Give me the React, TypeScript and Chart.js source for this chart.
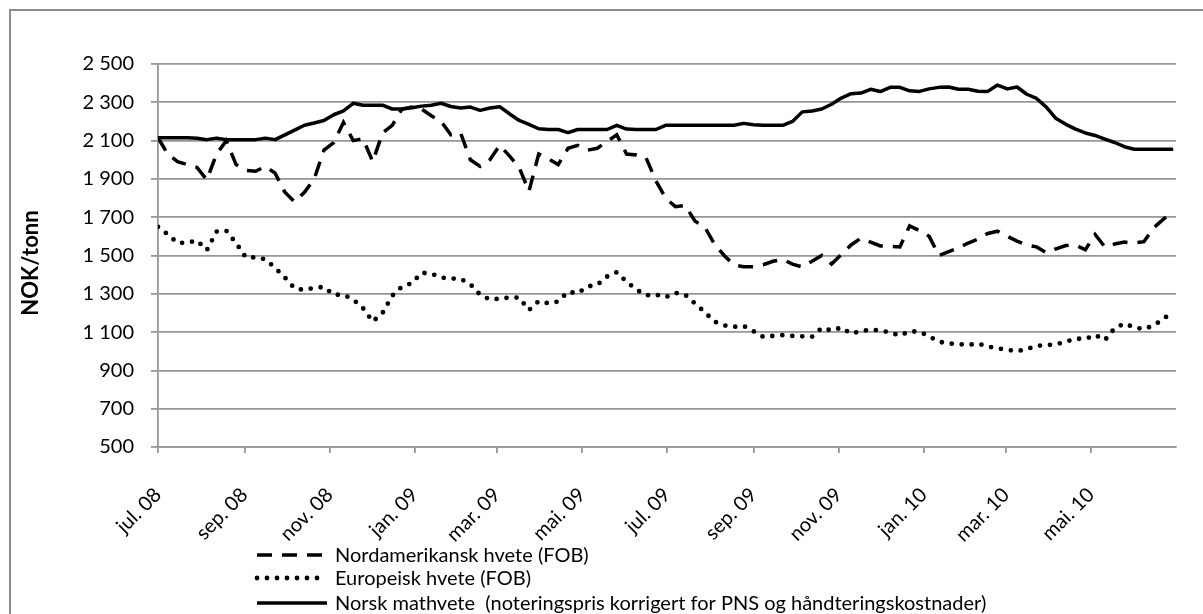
import React, { useEffect, useRef } from 'react';
import { Chart, registerables } from 'chart.js';

Chart.register(...registerables);

// ---- data (weekly observations starting at startDate) ----
const startDate = '2008-07-01';
const axisEndDate = '2010-07-01';
const weekStepDays = 7;

const tickDates = [
  '2008-07-01', '2008-09-01', '2008-11-01', '2009-01-01', '2009-03-01', '2009-05-01',
  '2009-07-01', '2009-09-01', '2009-11-01', '2010-01-01', '2010-03-01', '2010-05-01',
];
const tickLabels = [
  'jul. 08', 'sep. 08', 'nov. 08', 'jan. 09', 'mar. 09', 'mai. 09',
  'jul. 09', 'sep. 09', 'nov. 09', 'jan. 10', 'mar. 10', 'mai. 10',
];

const seriesLabels = [
  'Nordamerikansk hvete (FOB)',
  'Europeisk hvete (FOB)',
  'Norsk mathvete  (noteringspris korrigert for PNS og håndteringskostnader)',
];

const nordamerikansk = [
  2115, 2030, 1990, 1975, 1960, 1895, 2030, 2100, 1975, 1945,
  1940, 1965, 1930, 1830, 1780, 1830, 1900, 2050, 2090, 2195,
  2100, 2110, 1990, 2140, 2180, 2265, 2275, 2265, 2230, 2200,
  2130, 2140, 2000, 1965, 2000, 2075, 2020, 1960, 1835, 2030,
  2005, 1975, 2060, 2075, 2050, 2060, 2095, 2130, 2030, 2025,
  2010, 1890, 1800, 1755, 1762, 1680, 1650, 1560, 1500, 1450,
  1441, 1441, 1452, 1470, 1480, 1455, 1440, 1470, 1500, 1455,
  1505, 1555, 1590, 1570, 1550, 1548, 1545, 1655, 1630, 1600,
  1500, 1520, 1540, 1565, 1585, 1615, 1627, 1600, 1575, 1555,
  1545, 1515, 1535, 1552, 1555, 1530, 1610, 1545, 1560, 1570,
  1565, 1572, 1645, 1690, 1730,
];

const europeisk = [
  1650, 1610, 1565, 1567, 1578, 1528, 1625, 1629, 1565, 1490,
  1490, 1480, 1435, 1385, 1328, 1320, 1331, 1336, 1295, 1295,
  1270, 1225, 1155, 1200, 1290, 1338, 1355, 1410, 1405, 1385,
  1380, 1378, 1350, 1295, 1270, 1275, 1281, 1280, 1215, 1262,
  1250, 1260, 1310, 1303, 1338, 1347, 1390, 1413, 1363, 1322,
  1292, 1296, 1282, 1305, 1295, 1250, 1205, 1155, 1135, 1128,
  1132, 1105, 1075, 1080, 1084, 1080, 1078, 1076, 1122, 1108,
  1124, 1092, 1105, 1112, 1108, 1098, 1082, 1104, 1102, 1078,
  1050, 1040, 1038, 1033, 1040, 1025, 1015, 1008, 1000, 1011,
  1028, 1032, 1036, 1050, 1066, 1064, 1085, 1058, 1120, 1145,
  1125, 1115, 1135, 1168, 1210,
];

const norsk = [
  2115, 2115, 2115, 2115, 2112, 2105, 2113, 2105, 2105, 2105,
  2105, 2113, 2105, 2130, 2155, 2180, 2192, 2205, 2235, 2255,
  2295, 2285, 2285, 2285, 2265, 2265, 2272, 2280, 2285, 2295,
  2278, 2270, 2275, 2258, 2270, 2277, 2240, 2205, 2185, 2162,
  2158, 2158, 2142, 2158, 2158, 2158, 2158, 2180, 2160, 2158,
  2158, 2158, 2180, 2180, 2180, 2180, 2180, 2180, 2180, 2180,
  2190, 2183, 2180, 2180, 2180, 2200, 2250, 2255, 2265, 2290,
  2322, 2345, 2348, 2368, 2356, 2378, 2378, 2360, 2357, 2370,
  2378, 2380, 2368, 2368, 2358, 2357, 2390, 2370, 2380, 2342,
  2320, 2275, 2215, 2185, 2160, 2140, 2127, 2108, 2090, 2068,
  2055, 2055, 2055, 2055, 2055,
];

const yMin = 500;
const yMax = 2500;
const yStep = 200;
const yTitle = 'NOK/tonn';

// ---- helpers ----
const dayOffset = (d: string) =>
  Math.round((Date.parse(d) - Date.parse(startDate)) / 86400000);
const tickDays = tickDates.map(dayOffset);
const toPoints = (vals: number[]) => vals.map((v, i) => ({ x: i * weekStepDays, y: v }));
const fmtNum = (v: number) => {
  if (v >= 1000) {
    const th = Math.floor(v / 1000);
    const rest = String(v % 1000).padStart(3, '0');
    return `${th} ${rest}`;
  }
  return String(v);
};

const FONT = 'Lato';
const GRID = '#969696';
const FONT_SIZE = 20;

const legendPlugin = {
  id: 'customLegendAndTitle',
  afterDraw(chart: any) {
    const ctx = chart.ctx as CanvasRenderingContext2D;
    ctx.save();
    const rowY = [555, 578, 603];
    chart.data.datasets.forEach((ds: any, i: number) => {
      const y = rowY[i];
      ctx.beginPath();
      ctx.setLineDash(ds.borderDash || []);
      ctx.lineCap = ds.borderCapStyle || 'butt';
      ctx.lineWidth = ds.borderWidth;
      ctx.strokeStyle = ds.borderColor;
      ctx.moveTo(257, y);
      ctx.lineTo(327, y);
      ctx.stroke();
      ctx.setLineDash([]);
      ctx.fillStyle = '#000';
      ctx.font = `${FONT_SIZE}px ${FONT}`;
      ctx.textBaseline = 'middle';
      ctx.textAlign = 'left';
      ctx.fillText(ds.label, 335, y + 1);
    });
    ctx.translate(31, 263);
    ctx.rotate(-Math.PI / 2);
    ctx.font = `bold 22px ${FONT}`;
    ctx.textAlign = 'center';
    ctx.textBaseline = 'middle';
    ctx.fillStyle = '#000';
    ctx.fillText(yTitle, 0, 0);
    ctx.restore();
  },
};

export default function App() {
  const ref = useRef<HTMLCanvasElement | null>(null);

  useEffect(() => {
    if (!ref.current) return;
    const chart = new Chart(ref.current, {
      type: 'line',
      data: {
        datasets: [
          {
            label: seriesLabels[0],
            data: toPoints(nordamerikansk),
            borderColor: '#000',
            borderWidth: 3.5,
            borderDash: [15, 10],
            borderCapStyle: 'butt',
            pointRadius: 0,
            tension: 0,
            fill: false,
          },
          {
            label: seriesLabels[1],
            data: toPoints(europeisk),
            borderColor: '#000',
            borderWidth: 4.8,
            borderDash: [0, 10],
            borderCapStyle: 'round',
            pointRadius: 0,
            tension: 0,
            fill: false,
          },
          {
            label: seriesLabels[2],
            data: toPoints(norsk),
            borderColor: '#000',
            borderWidth: 3.5,
            borderCapStyle: 'butt',
            borderJoinStyle: 'round',
            pointRadius: 0,
            tension: 0,
            fill: false,
          },
        ],
      },
      options: {
        responsive: false,
        animation: false,
        layout: { padding: { top: 64, right: 27, left: 0, bottom: 0 } },
        plugins: { legend: { display: false }, tooltip: { enabled: false } },
        scales: {
          x: {
            type: 'linear',
            min: 0,
            max: dayOffset(axisEndDate),
            bounds: 'data',
            afterBuildTicks: (s: any) => {
              s.ticks = tickDays.map((v) => ({ value: v }));
            },
            afterFit: (s: any) => {
              s.height = 167;
            },
            grid: {
              drawOnChartArea: false,
              drawTicks: true,
              tickLength: 6,
              color: GRID,
              lineWidth: 1.8,
            },
            border: { display: true, color: GRID, width: 1.8 },
            ticks: {
              autoSkip: false,
              maxRotation: 45,
              minRotation: 45,
              padding: 30,
              color: '#000',
              font: { family: FONT, size: FONT_SIZE },
              callback: (v: any) => {
                const idx = tickDays.indexOf(Number(v));
                return idx >= 0 ? tickLabels[idx] : '';
              },
            },
          },
          y: {
            min: yMin,
            max: yMax,
            afterFit: (s: any) => {
              s.width = 158;
            },
            grid: { color: GRID, lineWidth: 1.8, tickLength: 7 },
            border: { display: true, color: GRID, width: 1.8 },
            ticks: {
              stepSize: yStep,
              padding: 17,
              color: '#000',
              font: { family: FONT, size: FONT_SIZE },
              callback: (v: any) => fmtNum(Number(v)),
            },
          },
        },
      },
      plugins: [legendPlugin],
    } as any);
    return () => chart.destroy();
  }, []);

  return (
    <div
      style={{
        position: 'fixed',
        left: 0,
        top: 0,
        width: 1203,
        height: 614,
        overflow: 'hidden',
        background: '#fff',
      }}
    >
      <div
        style={{
          position: 'absolute',
          left: 9,
          top: 9,
          width: 1400,
          height: 800,
          borderTop: '2px solid #8c8c8c',
          borderLeft: '2px solid #8c8c8c',
        }}
      />
      <canvas
        ref={ref}
        width={1203}
        height={614}
        style={{ position: 'absolute', left: 0, top: 0, width: 1203, height: 614 }}
      />
    </div>
  );
}
